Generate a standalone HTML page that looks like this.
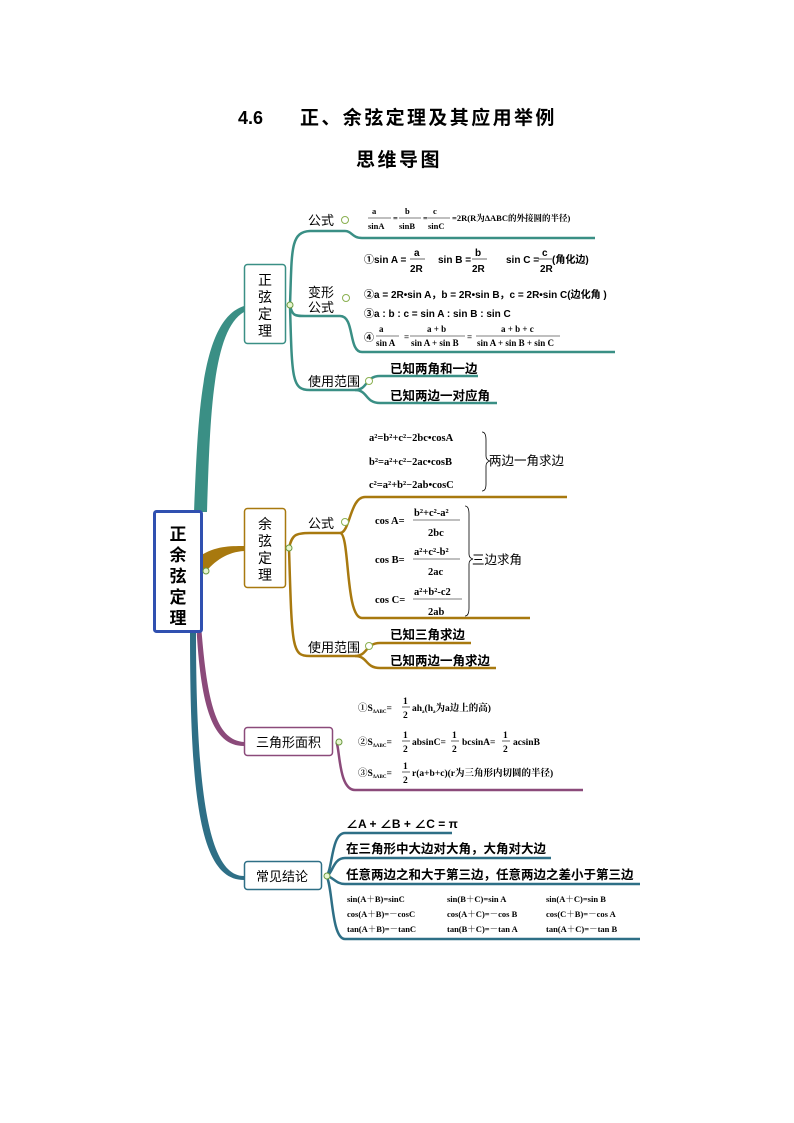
<!DOCTYPE html>
<html><head><meta charset="utf-8"><style>
html,body{margin:0;padding:0;background:#fff}
svg{display:block}
text{font-family:"Liberation Sans","Noto Sans CJK SC",sans-serif;fill:#000}
.s text,text.s{font-family:"Liberation Serif","Noto Serif CJK SC",serif;font-weight:bold}
.b,.b text{font-weight:bold}
</style></head><body>
<svg width="794" height="1123" viewBox="0 0 794 1123" xmlns="http://www.w3.org/2000/svg">
<text x="238" y="124" font-size="18" class="b">4.6</text>
<text x="300" y="124" font-size="19" class="b" letter-spacing="2.4">正、余弦定理及其应用举例</text>
<text x="356" y="166" font-size="19" class="b" letter-spacing="2.5">思维导图</text>

<!-- main connectors -->
<path d="M194 512 C198 420 200 320 244 306 L244 312 C212 330 210 420 207 512 Z" fill="#3a8f85"/>
<path d="M200 556 C215 546 230 546 244 546 L244 551 C228 552 215 560 204 574 Z" fill="#a8790f"/>
<path d="M200 610 C206 700 215 740 244 742 L244 746 C210 746 200 700 196 620 Z" fill="#8b4a7a"/>
<path d="M196 630 C196 800 210 876 244 876 L244 880 C200 880 190 800 190 630 Z" fill="#2e6f86"/>

<!-- central -->
<rect x="154.5" y="511.5" width="47" height="120" fill="#fff" stroke="#3050b0" stroke-width="3" rx="2"/>
<g font-size="17" class="b" text-anchor="middle">
<text x="178" y="540">正</text><text x="178" y="561">余</text><text x="178" y="582">弦</text><text x="178" y="603">定</text><text x="178" y="624">理</text>
</g>
<circle cx="206" cy="571" r="3" fill="#e8f5d0" stroke="#6a9a40" stroke-width="1"/>

<!-- 正弦定理 -->
<rect x="244.5" y="264.5" width="41" height="79" fill="#fff" stroke="#3a8f85" stroke-width="1.5" rx="3"/>
<g font-size="14" text-anchor="middle"><text x="265" y="285">正</text><text x="265" y="302">弦</text><text x="265" y="319">定</text><text x="265" y="336">理</text></g>
<g fill="none" stroke="#3a8f85" stroke-width="2.5">
<path d="M290 305 C292 250 290 232 310 231 L345 231 C352 231 352 238 362 238 L595 238"/>
<path d="M290 305 C292 316 295 316 305 316 L340 316 C355 316 348 352 362 352 L615 352"/>
<path d="M290 305 C292 380 292 390 310 390 L355 390 C368 390 365 376 380 376 L478 376"/>
<path d="M355 390 C368 390 365 403 380 403 L497 403"/>
</g>
<circle cx="290" cy="305" r="3" fill="#e8f5d0" stroke="#6a9a40"/>
<text x="308" y="225" font-size="13">公式</text><circle cx="345" cy="220" r="3.5" fill="#fff" stroke="#8ab050"/>
<text x="308" y="297" font-size="13">变形</text><text x="308" y="312" font-size="13">公式</text><circle cx="346" cy="298" r="3.5" fill="#fff" stroke="#8ab050"/>
<text x="308" y="386" font-size="13">使用范围</text><circle cx="369" cy="381" r="3.5" fill="#fff" stroke="#8ab050"/>
<g class="s" font-size="8.5">
<text x="372" y="214">a</text><line x1="368" y1="218" x2="391" y2="218" stroke="#000" stroke-width=".6"/><text x="368" y="229">sinA</text>
<text x="393" y="221">=</text>
<text x="405" y="214">b</text><line x1="399" y1="218" x2="421" y2="218" stroke="#000" stroke-width=".6"/><text x="399" y="229">sinB</text>
<text x="423" y="221">=</text>
<text x="433" y="214">c</text><line x1="428" y1="218" x2="450" y2="218" stroke="#000" stroke-width=".6"/><text x="428" y="229">sinC</text>
<text x="452" y="221">=2R(R为ΔABC的外接圆的半径)</text>
</g>
<g class="b" font-size="10">
<text x="364" y="263">①sin A =</text><text x="414" y="256">a</text><line x1="410" y1="259" x2="425" y2="259" stroke="#000" stroke-width=".6"/><text x="410" y="272">2R</text>
<text x="438" y="263">sin B =</text><text x="475" y="256">b</text><line x1="472" y1="259" x2="487" y2="259" stroke="#000" stroke-width=".6"/><text x="472" y="272">2R</text>
<text x="506" y="263">sin C =</text><text x="542" y="256">c</text><line x1="538" y1="259" x2="552" y2="259" stroke="#000" stroke-width=".6"/><text x="540" y="272">2R</text><text x="552" y="263">(角化边)</text>
<text x="364" y="298">②a = 2R•sin A，b = 2R•sin B，c = 2R•sin C(边化角 )</text>
<text x="364" y="317">③a : b : c = sin A : sin B : sin C</text>
</g>
<text x="364" y="341" font-size="10" class="b">④</text>
<g class="s" font-size="9">
<text x="379" y="332">a</text><line x1="376" y1="336" x2="399" y2="336" stroke="#000" stroke-width=".6"/><text x="376" y="346">sin A</text>
<text x="404" y="340">=</text>
<text x="427" y="332">a + b</text><line x1="410" y1="336" x2="465" y2="336" stroke="#000" stroke-width=".6"/><text x="411" y="346">sin A + sin B</text>
<text x="467" y="340">=</text>
<text x="501" y="332">a + b + c</text><line x1="476" y1="336" x2="560" y2="336" stroke="#000" stroke-width=".6"/><text x="477" y="346">sin A + sin B + sin C</text>
</g>
<text x="390" y="373" font-size="12.5" class="b">已知两角和一边</text>
<text x="390" y="400" font-size="12.5" class="b">已知两边一对应角</text>

<!-- 余弦定理 -->
<rect x="244.5" y="508.5" width="41" height="79" fill="#fff" stroke="#a8790f" stroke-width="1.5" rx="3"/>
<g font-size="14" text-anchor="middle"><text x="265" y="529">余</text><text x="265" y="546">弦</text><text x="265" y="563">定</text><text x="265" y="580">理</text></g>
<g fill="none" stroke="#a8790f" stroke-width="2.5">
<path d="M289 548 C292 535 295 533 310 533 L340 533 C350 533 350 497 365 497 L567 497"/>
<path d="M340 533 C350 533 345 618 362 618 L530 618"/>
<path d="M289 548 C292 650 292 656 310 656 L355 656 C368 656 365 643 380 643 L471 643"/>
<path d="M355 656 C368 656 365 668 380 668 L496 668"/>
</g>
<circle cx="289" cy="548" r="3" fill="#e8f5d0" stroke="#6a9a40"/>
<text x="308" y="528" font-size="13">公式</text><circle cx="345" cy="522" r="3.5" fill="#fff" stroke="#8ab050"/>
<text x="308" y="652" font-size="13">使用范围</text><circle cx="369" cy="646" r="3.5" fill="#fff" stroke="#8ab050"/>
<g class="s" font-size="10.5">
<text x="369" y="441">a²=b²+c²−2bc•cosA</text>
<text x="369" y="465">b²=a²+c²−2ac•cosB</text>
<text x="369" y="488">c²=a²+b²−2ab•cosC</text>
<text x="375" y="524">cos A=</text><text x="414" y="516">b²+c²-a²</text><line x1="413" y1="520" x2="460" y2="520" stroke="#000" stroke-width=".6"/><text x="428" y="536">2bc</text>
<text x="375" y="563">cos B=</text><text x="414" y="555">a²+c²-b²</text><line x1="413" y1="559" x2="460" y2="559" stroke="#000" stroke-width=".6"/><text x="428" y="575">2ac</text>
<text x="375" y="603">cos C=</text><text x="414" y="595">a²+b²-c2</text><line x1="413" y1="599" x2="462" y2="599" stroke="#000" stroke-width=".6"/><text x="428" y="615">2ab</text>
</g>
<path d="M482 432 Q486 432 486 440 L486 456 Q486 460 490 461 Q486 462 486 466 L486 484 Q486 491 482 491" fill="none" stroke="#000" stroke-width=".8"/>
<path d="M465 506 Q469 506 469 514 L469 554 Q469 558 473 559 Q469 560 469 564 L469 608 Q469 616 465 616" fill="none" stroke="#000" stroke-width=".8"/>
<text x="489" y="465" font-size="12.5">两边一角求边</text>
<text x="472" y="564" font-size="12.5">三边求角</text>
<text x="390" y="639" font-size="12.5" class="b">已知三角求边</text>
<text x="390" y="665" font-size="12.5" class="b">已知两边一角求边</text>

<!-- 三角形面积 -->
<rect x="244.5" y="727.5" width="88" height="28" fill="#fff" stroke="#8b4a7a" stroke-width="1.5" rx="3"/>
<text x="256" y="747" font-size="13">三角形面积</text>
<path d="M336 742 C340 745 338 790 355 790 L583 790" fill="none" stroke="#8b4a7a" stroke-width="2.5"/>
<circle cx="339" cy="742" r="3" fill="#e8f5d0" stroke="#6a9a40"/>
<g class="s" font-size="9.5">
<text x="358" y="711">①S<tspan font-size="5" dy="2">ΔABC</tspan><tspan dy="-2">=</tspan></text><text x="403" y="704">1</text><line x1="402" y1="707" x2="410" y2="707" stroke="#000" stroke-width=".6"/><text x="403" y="718">2</text><text x="412" y="711">ah<tspan font-size="5" dy="2">a</tspan><tspan dy="-2">(h</tspan><tspan font-size="5" dy="2">a</tspan><tspan dy="-2">为a边上的高)</tspan></text>
<text x="358" y="745">②S<tspan font-size="5" dy="2">ΔABC</tspan><tspan dy="-2">=</tspan></text><text x="403" y="738">1</text><line x1="402" y1="741" x2="410" y2="741" stroke="#000" stroke-width=".6"/><text x="403" y="752">2</text><text x="412" y="745">absinC=</text><text x="452" y="738">1</text><line x1="451" y1="741" x2="459" y2="741" stroke="#000" stroke-width=".6"/><text x="452" y="752">2</text><text x="462" y="745">bcsinA=</text><text x="503" y="738">1</text><line x1="502" y1="741" x2="510" y2="741" stroke="#000" stroke-width=".6"/><text x="503" y="752">2</text><text x="513" y="745">acsinB</text>
<text x="358" y="776">③S<tspan font-size="5" dy="2">ΔABC</tspan><tspan dy="-2">=</tspan></text><text x="403" y="769">1</text><line x1="402" y1="772" x2="410" y2="772" stroke="#000" stroke-width=".6"/><text x="403" y="783">2</text><text x="412" y="776">r(a+b+c)(r为三角形内切圆的半径)</text>
</g>

<!-- 常见结论 -->
<rect x="244.5" y="861.5" width="77" height="28" fill="#fff" stroke="#2e6f86" stroke-width="1.5" rx="3"/>
<text x="256" y="881" font-size="13">常见结论</text>
<g fill="none" stroke="#2e6f86" stroke-width="2.5">
<path d="M325 876 C333 876 330 833 345 833 L452 833"/>
<path d="M325 876 C333 876 332 858 345 858 L551 858"/>
<path d="M325 876 C333 876 335 884 345 884 L640 884"/>
<path d="M325 876 C333 876 330 939 345 939 L640 939"/>
</g>
<circle cx="327" cy="876" r="3" fill="#e8f5d0" stroke="#6a9a40"/>
<text x="346" y="828" font-size="12" class="b">∠A + ∠B + ∠C = π</text>
<text x="346" y="853" font-size="12.5" class="b">在三角形中大边对大角，大角对大边</text>
<text x="346" y="879" font-size="12.5" class="b">任意两边之和大于第三边，任意两边之差小于第三边</text>
<g font-size="8.5" class="s">
<text x="347" y="902">sin(A＋B)=sinC</text><text x="447" y="902">sin(B＋C)=sin A</text><text x="546" y="902">sin(A＋C)=sin B</text>
<text x="347" y="917">cos(A＋B)=－cosC</text><text x="447" y="917">cos(A＋C)=－cos B</text><text x="546" y="917">cos(C＋B)=－cos A</text>
<text x="347" y="932">tan(A＋B)=－tanC</text><text x="447" y="932">tan(B＋C)=－tan A</text><text x="546" y="932">tan(A＋C)=－tan B</text>
</g>
</svg>
</body></html>
